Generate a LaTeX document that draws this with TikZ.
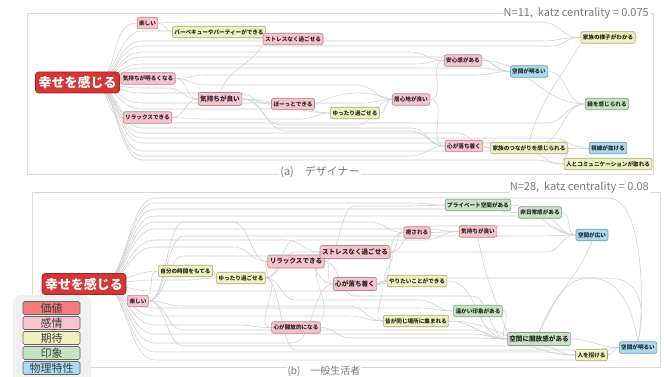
\documentclass[tikz,border=0pt]{standalone}
\usepackage{fontspec}
\setmainfont{Noto Sans CJK JP}
\usetikzlibrary{calc,backgrounds}
\definecolor{cnxc}{HTML}{D0D0D0}
\definecolor{pkf}{HTML}{F8C3CA}\definecolor{pkd}{HTML}{B58A8F}
\definecolor{ylf}{HTML}{EEF1BC}\definecolor{yld}{HTML}{A9A87E}
\definecolor{gnf}{HTML}{C6E3C2}\definecolor{gnd}{HTML}{86A585}
\definecolor{blf}{HTML}{A9DCF4}\definecolor{bld}{HTML}{6C98B0}
\definecolor{rdf}{HTML}{D43535}\definecolor{rdd}{HTML}{A32222}
\definecolor{vlf}{HTML}{F27B7B}
\definecolor{framec}{HTML}{D9D9D9}
\definecolor{txtg}{HTML}{7A7A7A}
\definecolor{lgbg}{HTML}{F0F0F0}
\tikzset{
  cnx/.style={draw=cnxc, line width=0.55pt},
  nd/.style={rounded corners=2pt, line width=0.6pt, inner xsep=2pt, inner ysep=1pt,
    minimum height=11.5pt, font=\fontsize{5.6}{6}\selectfont\bfseries, text=black!85},
  pk/.style={nd, fill=pkf, draw=pkd},
  yl/.style={nd, fill=ylf, draw=yld},
  gn/.style={nd, fill=gnf, draw=gnd},
  bl/.style={nd, fill=blf, draw=bld},
  bignd/.style={font=\fontsize{6.6}{7}\selectfont\bfseries, minimum height=13pt},
  mainnd/.style={rounded corners=3pt, fill=rdf, draw=rdd, line width=0.6pt, text=white,
    font=\fontsize{13}{14}\selectfont\bfseries, inner xsep=3pt, minimum height=21pt},
  lgbox/.style={draw=black!60, line width=0.7pt, rounded corners=1.5pt, minimum width=57pt,
    minimum height=13pt, inner sep=0pt, font=\fontsize{11}{11}\selectfont, text=black!75},
  panelframe/.style={draw=framec, line width=0.6pt},
  ttlt/.style={text=txtg, font=\fontsize{11}{11}\selectfont, fill=white, inner sep=1pt},
}
\newcommand\laneedge[5]{%
  \draw[cnx] let \p1=(#1), \p2=(#2) in
    (\p1) .. controls (\x1+#4*0.5pt,\y1) and (\x1+#4*0.5pt,-#3pt) .. (\x1+#4pt,-#3pt)
    -- (\x2-#5pt,-#3pt) .. controls (\x2-#5*0.5pt,-#3pt) and (\x2-#5*0.5pt,\y2) .. (\p2);}
\newcommand\laneedgeN[4]{%
  \draw[cnx] let \p1=(#1), \p2=(#2) in
    (\p1) .. controls (\x1+#4*0.5pt,\y1) and (\x1+#4*0.5pt,-#3pt) .. (\x1+#4pt,-#3pt)
    -- (\x2-30pt,-#3pt) .. controls (\x2+8pt,-#3pt) and (\x2+6pt,\y2+25pt) .. (\p2);}
\begin{document}
\begin{tikzpicture}[x=1pt,y=-1pt]
\useasboundingbox (0,0) rectangle (664,377);
\clip (0,0) rectangle (664,377);

% ---------------- top panel nodes ----------------
\node[mainnd] (tm) at (77.5,82.5) {幸せを感じる};
\coordinate (tms) at (92,82.5);
\node[pk] (t1) at (147.5,23) {楽しい};
\node[yl] (t2) at (219,32) {バーベキューやパーティーができる};
\node[pk] (t3) at (293,39) {ストレスなく過ごせる};
\node[pk] (t4) at (148,78.5) {気持ちが明るくなる};
\node[pk,bignd] (t5) at (220,99) {気持ちが良い};
\node[pk] (t6) at (147.5,117.5) {リラックスできる};
\node[pk] (t7) at (293,104) {ぼーっとできる};
\node[yl] (t8) at (355,113) {ゆったり過ごせる};
\node[pk] (t9) at (411,99.5) {居心地が良い};
\node[pk] (t10) at (463,60.5) {安心感がある};
\node[bl] (t11) at (529,71.5) {空間が明るい};
\node[yl] (t12) at (608,37.5) {家族の様子がわかる};
\node[gn] (t13) at (607,104) {緑を感じられる};
\node[pk] (t14) at (464,146) {心が落ち着く};
\node[yl] (t15) at (529,148) {家族のつながりを感じられる};
\node[bl] (t16) at (608,148) {視線が抜ける};
\node[yl] (t17) at (608,164) {人とコミュニケーションが取れる};

% ---------------- bottom panel nodes ----------------
\node[mainnd] (bm) at (84,284) {幸せを感じる};
\coordinate (bms) at (100,284);
\node[pk] (b1) at (138,301) {楽しい};
\node[yl] (b2) at (185.5,271) {自分の時間をもてる};
\node[yl] (b3) at (241,278) {ゆったり過ごせる};
\node[pk,bignd] (b4) at (296,261.5) {リラックスできる};
\node[pk,bignd] (b5) at (355,252) {ストレスなく過ごせる};
\node[pk,bignd] (b6) at (355,284) {心が落ち着く};
\node[pk] (b7) at (417,232.5) {癒される};
\node[yl] (b8) at (417,281) {やりたいことができる};
\node[pk] (b9) at (296,327.5) {心が開放的になる};
\node[yl] (b10) at (416,321) {皆が同じ場所に集まれる};
\node[gn] (b11) at (478,205) {プライベート空間がある};
\node[gn] (b12) at (540,212.5) {非日常感がある};
\node[pk] (b13) at (478,231.5) {気持ちが良い};
\node[bl] (b14) at (592,235) {空間が広い};
\node[gn] (b15) at (478,311) {温かい印象がある};
\node[gn,bignd] (b16) at (539,339) {空間に開放感がある};
\node[yl] (b17) at (591.5,355) {人を招ける};
\node[bl] (b18) at (638,347.5) {空間が明るい};

\begin{pgfonlayer}{background}
\draw[panelframe] (27,13) rectangle (653,174);
\draw[panelframe] (32,192) rectangle (660,367);

% ---- top connectors ----
\draw[cnx] (tms) to[out=0,in=180] (t1.west);
\draw[cnx] (tms) to[out=0,in=180] (t4.west);
\draw[cnx] (tms) to[out=0,in=180] (t6.west);
\draw[cnx] (t1.east) to[out=0,in=180] (t2.west);
\draw[cnx] (t4.east) to[out=0,in=180] (t5.west);
\draw[cnx] (t6.east) to[out=0,in=180] (t5.west);
\draw[cnx] (t5.east) to[out=0,in=180] (t7.west);
\draw[cnx] (t5.east) to[out=0,in=180] (t8.west);
\draw[cnx] (t7.east) to[out=25,in=160] (t9.west);
\draw[cnx] (t8.east) to[out=0,in=180] (t9.west);
\draw[cnx] (t9.east) to[out=0,in=180] (t10.west);
\draw[cnx] (t9.east) to[out=0,in=180] (t14.west);
\draw[cnx] (t10.east) to[out=0,in=180] (t11.west);
\draw[cnx] (t10.east) to[out=0,in=180] (t13.west);
\draw[cnx] (t11.east) to[out=0,in=180] (t13.west);
\draw[cnx] (t14.east) to[out=0,in=180] (t15.west);
\draw[cnx] (t15.east) to[out=0,in=180] (t16.west);
\draw[cnx] (t15.east) to[out=0,in=180] (t17.west);
\draw[cnx] (t15.north) to[out=75,in=-120] (t12.south west);
\draw[cnx] (t5.north) to[out=70,in=-110] (t2.south east);
\laneedge{tms}{t3.west}{31}{50}{30}
\laneedge{tms}{t12.west}{41}{50}{40}
\laneedge{tms}{t12.west}{46}{50}{30}
\laneedge{tms}{t10.west}{52}{50}{35}
\laneedge{tms}{t11.west}{57}{50}{35}
\laneedge{tms}{t10.west}{64}{50}{30}
\laneedge{tms}{t11.west}{68}{50}{30}
\laneedge{tms}{t5.west}{88}{50}{30}
\laneedge{tms}{t7.west}{93}{50}{35}
\laneedge{tms}{t9.west}{103}{50}{30}
\laneedge{tms}{t8.west}{109}{50}{30}
\laneedge{tms}{t13.west}{123}{50}{40}
\laneedge{tms}{t14.west}{128}{50}{35}
\laneedge{tms}{t15.west}{133}{50}{35}
\laneedge{tms}{t16.west}{138}{50}{40}
\laneedge{tms}{t13.west}{143}{50}{45}
\laneedge{tms}{t17.west}{151}{50}{40}
\laneedge{tms}{t14.west}{156}{50}{35}
\laneedge{tms}{t17.west}{160}{50}{30}
\laneedge{t1.east}{t12.west}{22}{30}{40}
\laneedge{t4.east}{t11.west}{75}{30}{35}
\laneedge{t4.east}{t9.west}{85}{30}{35}
\laneedge{t6.east}{t8.west}{119}{30}{30}
\laneedge{t5.east}{t9.west}{125}{40}{35}
\laneedge{t5.east}{t14.west}{131}{45}{35}

% ---- bottom connectors ----
\draw[cnx] (bms) to[out=0,in=180] (b1.west);
\draw[cnx] (bms) to[out=0,in=180] (b2.west);
\draw[cnx] (b1.north east) to[out=60,in=180] (b2.west);
\draw[cnx] (b2.east) to[out=0,in=180] (b3.west);
\draw[cnx] (b3.east) to[out=0,in=180] (b4.west);
\draw[cnx] (b3.east) to[out=0,in=180] (b9.west);
\draw[cnx] (b4.east) to[out=0,in=180] (b5.west);
\draw[cnx] (b4.east) to[out=0,in=180] (b6.west);
\draw[cnx] (b9.north east) to[out=60,in=-120] (b5.south west);
\draw[cnx] (b5.east) to[out=0,in=180] (b7.west);
\draw[cnx] (b5.east) to[out=0,in=180] (b8.west);
\draw[cnx] (b6.east) to[out=0,in=180] (b8.west);
\draw[cnx] (b6.east) to[out=0,in=180] (b10.west);
\draw[cnx] (b6.east) to[out=0,in=180] (b7.west);
\draw[cnx] (b7.east) to[out=0,in=180] (b13.west);
\draw[cnx] (b8.east) to[out=0,in=180] (b16.west);
\draw[cnx] (b10.east) to[out=0,in=180] (b16.west);
\draw[cnx] (b10.east) to[out=0,in=180] (b17.west);
\draw[cnx] (b15.east) to[out=0,in=180] (b16.west);
\draw[cnx] (b11.east) to[out=0,in=180] (b14.west);
\draw[cnx] (b12.east) to[out=0,in=180] (b14.west);
\draw[cnx] (b13.south) to[out=-80,in=110] (b16.north west);
\draw[cnx] (b14.south) to[out=-110,in=70] (b16.north);
\draw[cnx] (b16.east) to[out=0,in=180] (b18.west);
\draw[cnx] (b17.east) to[out=0,in=180] (b18.west);
\draw[cnx] (b16.north) to[out=60,in=180] (590,278) to[out=0,in=100] (b18.north);
\laneedgeN{bms}{b18.north}{198}{55}
\laneedge{bms}{b11.west}{203}{55}{35}
\laneedge{bms}{b12.west}{209}{55}{35}
\laneedge{bms}{b14.west}{216}{55}{35}
\laneedge{bms}{b7.west}{222}{55}{35}
\laneedge{bms}{b13.west}{229}{55}{35}
\laneedge{bms}{b5.west}{240}{55}{35}
\laneedge{bms}{b4.west}{247}{55}{35}
\laneedge{bms}{b3.west}{280}{55}{30}
\laneedge{bms}{b8.west}{291}{55}{35}
\laneedge{bms}{b15.west}{308}{55}{35}
\laneedge{bms}{b10.west}{316}{55}{35}
\laneedge{bms}{b9.west}{325}{55}{35}
\laneedge{bms}{b16.west}{334}{55}{35}
\laneedge{bms}{b6.west}{343}{55}{40}
\laneedge{bms}{b17.west}{352}{55}{35}
\laneedge{bms}{b18.west}{360}{55}{30}
\laneedge{b1.east}{b4.west}{222}{35}{35}
\laneedge{b1.east}{b14.west}{236}{35}{35}
\laneedge{b1.east}{b6.west}{256}{35}{35}
\laneedge{b1.east}{b10.west}{306}{35}{35}
\laneedge{b1.east}{b16.west}{330}{35}{35}
\laneedge{b1.east}{b17.west}{346}{35}{35}
\laneedge{b3.east}{b13.west}{240}{30}{35}
\laneedge{b3.east}{b14.west}{252}{30}{30}
\laneedge{b3.east}{b15.west}{300}{30}{35}
\laneedge{b3.east}{b18.west}{350}{30}{30}
\laneedge{b4.east}{b11.west}{206}{30}{35}
\laneedge{b4.east}{b16.west}{296}{30}{35}
\laneedge{b9.east}{b16.west}{338}{30}{30}
\laneedge{b5.east}{b14.west}{226}{30}{30}
\laneedgeN{b6.east}{b18.north}{278}{30}
\end{pgfonlayer}

% ---------------- titles and captions ----------------
\node[ttlt, anchor=east] (ttop) at (650,13) {N=11,\ \ katz centrality = 0.075};
\node[ttlt, anchor=east] (tbot) at (650,187) {N=28,\ \ katz centrality = 0.08};
\node[ttlt] (capa) at (320,172) {(a)\quad デザイナー};
\node[ttlt, font=\fontsize{10}{10}\selectfont, inner sep=0.5pt] (capb) at (324,371.5) {(b)\quad 一般生活者};

% ---------------- legend ----------------
\fill[lgbg, rounded corners=8pt] (13,295) rectangle (91,385);
\node[lgbox, fill=vlf] (lv) at (51.5,308) {価値};
\node[lgbox, fill=pkf] (le) at (51.5,323) {感情};
\node[lgbox, fill=ylf] (lx) at (51.5,338) {期待};
\node[lgbox, fill=gnf] (li) at (51.5,353) {印象};
\node[lgbox, fill=blf] (lp) at (51.5,368) {物理特性};
\end{tikzpicture}
\end{document}
